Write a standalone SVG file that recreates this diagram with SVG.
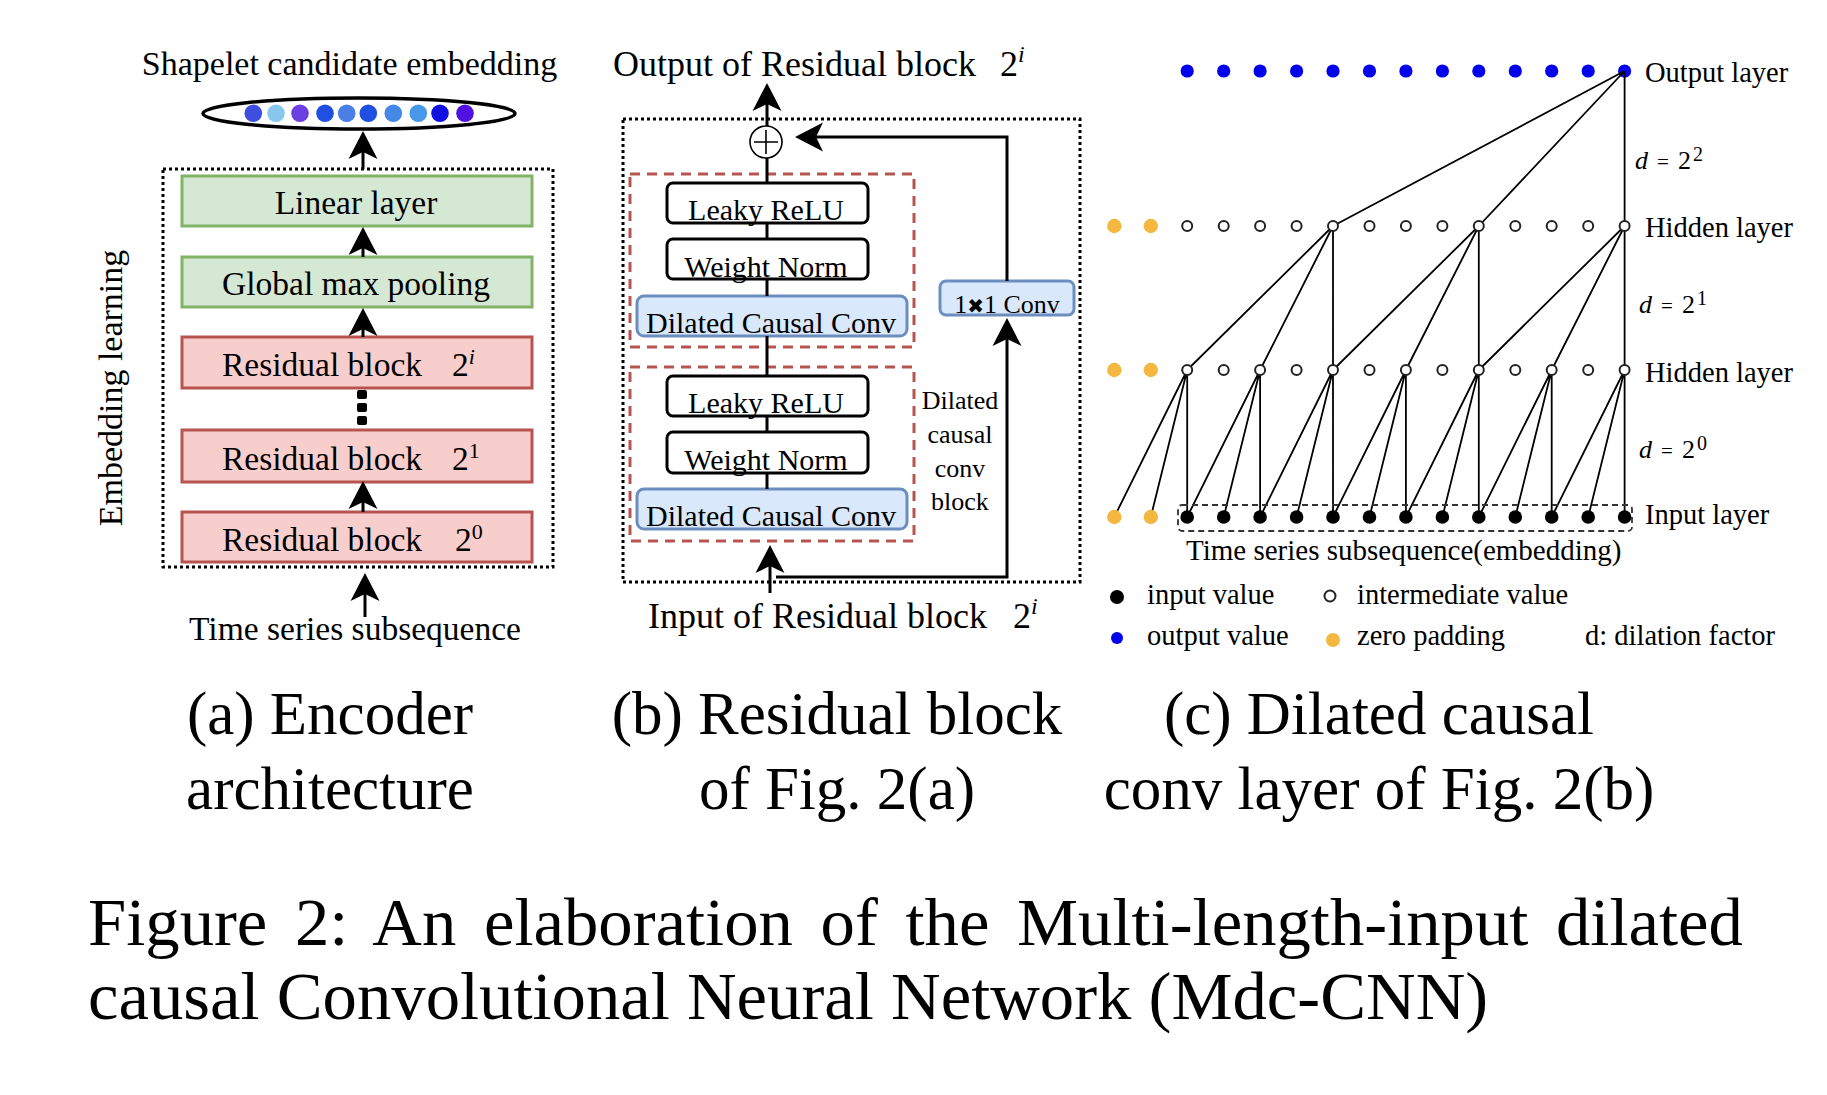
<svg xmlns="http://www.w3.org/2000/svg" width="1827" height="1095" viewBox="0 0 1827 1095">
<defs>
<style>
text{font-family:"Liberation Serif","Times New Roman","DejaVu Serif",serif;fill:#000}
.f34{font-size:34px}
.f33{font-size:33.5px}
.f36{font-size:36px}
.f30{font-size:30px}
.f26{font-size:26px}
.f28{font-size:28.5px}
.cap{font-size:61px}
.fig{font-size:68.7px}
.sup{font-size:22px}
.green{fill:#d5e8d4;stroke:#82b366;stroke-width:3}
.red{fill:#f8cecc;stroke:#b85450;stroke-width:3}
.blue{fill:#dae8fc;stroke:#6c8ebf;stroke-width:3}
.plain{fill:#fff;stroke:#000;stroke-width:3}
.dotbox{fill:none;stroke:#000;stroke-width:3;stroke-dasharray:3 3}
.redbox{fill:none;stroke:#b85450;stroke-width:3;stroke-dasharray:10 7}
.ln{fill:none;stroke:#000;stroke-width:3}
.thin{fill:none;stroke:#000;stroke-width:1.8}
.out{fill:#0000ee}
.pad{fill:#f4b740}
.mid{fill:#fff;stroke:#222;stroke-width:2}
.inp{fill:#000}
</style>
<path id="ah" d="M0,0 L-14.5,28 L0,21 L14.5,28 Z" fill="#000"/>
</defs>
<rect width="1827" height="1095" fill="#fff"/>

<!-- ===== Panel (a) ===== -->
<g id="a-title"><text class="f34" x="349.5" y="75" text-anchor="middle">Shapelet candidate embedding</text></g>
<g id="a-embedding">
<ellipse cx="359" cy="113.5" rx="156" ry="15.5" fill="#fff" stroke="#000" stroke-width="3.5"/>
<circle cx="253.3" cy="113.3" r="8.8" fill="#3d4ee0"/>
<circle cx="276" cy="113.3" r="8.8" fill="#88c8ec"/>
<circle cx="300" cy="113.3" r="8.8" fill="#6b3fe0"/>
<circle cx="325" cy="113.3" r="8.8" fill="#2050e0"/>
<circle cx="346.7" cy="113.3" r="8.8" fill="#4a7fe6"/>
<circle cx="368.3" cy="113.3" r="8.8" fill="#2050e0"/>
<circle cx="393.3" cy="113.3" r="8.8" fill="#4488e8"/>
<circle cx="418.3" cy="113.3" r="8.8" fill="#4898e8"/>
<circle cx="440" cy="113.3" r="8.8" fill="#1010e0"/>
<circle cx="465" cy="113.3" r="8.8" fill="#5010e0"/>
</g>
<g id="a-encoder-box"><rect class="dotbox" x="163" y="169" width="390" height="398"/></g>
<g id="a-embedding-label"><text class="f34" transform="translate(122,388) rotate(-90)" text-anchor="middle">Embedding learning</text></g>
<g id="a-linear"><rect class="green" x="182" y="176" width="350" height="50"/><text class="f33" x="356" y="214" text-anchor="middle">Linear layer</text></g>
<g id="a-gmp"><rect class="green" x="182" y="257" width="350" height="50"/><text class="f33" x="356" y="295" text-anchor="middle">Global max pooling</text></g>
<g id="a-res-i"><rect class="red" x="182" y="337" width="350" height="51"/><text class="f33" x="222" y="376">Residual block</text><text class="f33" x="452" y="376">2<tspan class="sup" dy="-12" font-style="italic">i</tspan></text></g>
<g id="a-ellipsis">
<rect x="357" y="390" width="10" height="9" rx="2" fill="#000"/>
<rect x="357" y="403" width="10" height="9" rx="2" fill="#000"/>
<rect x="357" y="416" width="10" height="9" rx="2" fill="#000"/>
</g>
<g id="a-res-1"><rect class="red" x="182" y="430" width="350" height="52"/><text class="f33" x="222" y="470">Residual block</text><text class="f33" x="452" y="470">2<tspan class="sup" dy="-12">1</tspan></text></g>
<g id="a-res-0"><rect class="red" x="182" y="512" width="350" height="50"/><text class="f33" x="222" y="550.5">Residual block</text><text class="f33" x="455" y="550.5">2<tspan class="sup" dy="-12">0</tspan></text></g>
<g id="a-input"><text class="f33" x="355" y="640" text-anchor="middle">Time series subsequence</text></g>

<!-- ===== Panel (b) ===== -->
<g id="b-output-label"><text class="f36" x="613" y="76">Output of Residual block</text><text class="f36" x="1000" y="76">2<tspan font-size="24" dy="-14" font-style="italic">i</tspan></text></g>
<g id="b-block-box"><rect class="dotbox" x="623" y="119" width="457" height="463"/></g>
<g id="b-sum"><circle cx="766" cy="142" r="16" fill="#fff" stroke="#000" stroke-width="1.6"/><path d="M754,142 H778 M766,130 V154" stroke="#000" stroke-width="1.6"/></g>
<g id="b-dcc-upper"><rect class="redbox" x="630" y="174" width="284" height="173"/></g>
<g id="b-dcc-lower"><rect class="redbox" x="630" y="367" width="284" height="174"/></g>
<g id="b-leaky-1"><rect class="plain" x="667" y="183" width="201" height="40" rx="6"/><text class="f30" x="766" y="220" text-anchor="middle">Leaky ReLU</text></g>
<g id="b-wn-1"><rect class="plain" x="667" y="239" width="201" height="40" rx="6"/><text class="f30" x="766" y="277" text-anchor="middle">Weight Norm</text></g>
<g id="b-conv-1"><rect class="blue" x="637" y="296" width="270" height="40" rx="7"/><text class="f30" x="771" y="333" text-anchor="middle">Dilated Causal Conv</text></g>
<g id="b-leaky-2"><rect class="plain" x="667" y="376" width="201" height="40" rx="6"/><text class="f30" x="766" y="413" text-anchor="middle">Leaky ReLU</text></g>
<g id="b-wn-2"><rect class="plain" x="667" y="432" width="201" height="41" rx="6"/><text class="f30" x="766" y="470" text-anchor="middle">Weight Norm</text></g>
<g id="b-conv-2"><rect class="blue" x="637" y="489" width="270" height="40" rx="7"/><text class="f30" x="771" y="526" text-anchor="middle">Dilated Causal Conv</text></g>
<g id="b-1x1"><rect class="blue" x="940" y="281" width="134" height="34" rx="6"/><text class="f26" x="1007" y="313" text-anchor="middle">1<tspan font-family="DejaVu Sans" font-size="20">✖</tspan>1 Conv</text></g>
<g id="b-dcc-label" class="f26">
<text x="960" y="409" text-anchor="middle">Dilated</text>
<text x="960" y="442.5" text-anchor="middle">causal</text>
<text x="960" y="476.5" text-anchor="middle">conv</text>
<text x="960" y="509.5" text-anchor="middle">block</text>
</g>
<g id="b-input-label"><text class="f36" x="648" y="628">Input of Residual block</text><text class="f36" x="1013" y="628">2<tspan font-size="24" dy="-14" font-style="italic">i</tspan></text></g>

<!-- ===== Panel (c) nodes ===== -->
<g id="c-output-layer">
<circle id="o0" class="out" cx="1187.2" cy="71" r="6.6"/>
<circle id="o1" class="out" cx="1223.7" cy="71" r="6.6"/>
<circle id="o2" class="out" cx="1260.1" cy="71" r="6.6"/>
<circle id="o3" class="out" cx="1296.6" cy="71" r="6.6"/>
<circle id="o4" class="out" cx="1333" cy="71" r="6.6"/>
<circle id="o5" class="out" cx="1369.5" cy="71" r="6.6"/>
<circle id="o6" class="out" cx="1405.9" cy="71" r="6.6"/>
<circle id="o7" class="out" cx="1442.4" cy="71" r="6.6"/>
<circle id="o8" class="out" cx="1478.8" cy="71" r="6.6"/>
<circle id="o9" class="out" cx="1515.3" cy="71" r="6.6"/>
<circle id="o10" class="out" cx="1551.7" cy="71" r="6.6"/>
<circle id="o11" class="out" cx="1588.2" cy="71" r="6.6"/>
<circle id="o12" class="out" cx="1624.6" cy="71" r="6.6"/>
</g>

<!-- ===== Connectors ===== -->
<g id="connectors">
<!-- panel a -->
<line class="ln" x1="363" y1="169" x2="363" y2="152"/><use href="#ah" x="363" y="131"/>
<line class="ln" x1="363" y1="257" x2="363" y2="247"/><use href="#ah" x="363" y="227"/>
<line class="ln" x1="363" y1="337" x2="363" y2="328"/><use href="#ah" x="363" y="308"/>
<line class="ln" x1="363" y1="512" x2="363" y2="501"/><use href="#ah" x="363" y="481"/>
<line class="ln" x1="365" y1="617" x2="365" y2="593"/><use href="#ah" x="365" y="573"/>
<!-- panel b -->
<line class="ln" x1="767" y1="126" x2="767" y2="103"/><use href="#ah" x="767" y="83"/>
<line class="ln" x1="767" y1="158" x2="767" y2="183"/>
<line class="ln" x1="767" y1="223" x2="767" y2="239"/>
<line class="ln" x1="767" y1="279" x2="767" y2="296"/>
<line class="ln" x1="767" y1="336" x2="767" y2="376"/>
<line class="ln" x1="767" y1="416" x2="767" y2="432"/>
<line class="ln" x1="767" y1="473" x2="767" y2="489"/>
<line class="ln" x1="770" y1="593" x2="770" y2="565"/><use href="#ah" x="770" y="545"/>
<polyline class="ln" points="776,577 1007,577 1007,338"/><use href="#ah" x="1007" y="318"/>
<polyline class="ln" points="1007,281 1007,137 815,137"/><use href="#ah" transform="translate(795,137) rotate(-90)"/>
<!-- panel c -->
<path class="thin" d="M1624.6,71 L1333,226 M1624.6,71 L1478.8,226 M1624.6,71 L1624.6,226"/>
<path class="thin" d="M1333,226 L1187.2,370 M1333,226 L1260.1,370 M1333,226 L1333,370
M1478.8,226 L1333,370 M1478.8,226 L1405.9,370 M1478.8,226 L1478.8,370
M1624.6,226 L1478.8,370 M1624.6,226 L1551.7,370 M1624.6,226 L1624.6,370"/>
<path class="thin" d="M1187.2,370 L1187.2,517 M1187.2,370 L1150.8,517 M1187.2,370 L1114.3,517
M1260.1,370 L1260.1,517 M1260.1,370 L1223.7,517 M1260.1,370 L1187.2,517
M1333,370 L1333,517 M1333,370 L1296.6,517 M1333,370 L1260.1,517
M1405.9,370 L1405.9,517 M1405.9,370 L1369.5,517 M1405.9,370 L1333,517
M1478.8,370 L1478.8,517 M1478.8,370 L1442.4,517 M1478.8,370 L1405.9,517
M1551.7,370 L1551.7,517 M1551.7,370 L1515.3,517 M1551.7,370 L1478.8,517
M1624.6,370 L1624.6,517 M1624.6,370 L1588.2,517 M1624.6,370 L1551.7,517"/>
</g>

<g id="c-hidden-layer-1">
<circle id="h1p0" class="pad" cx="1114.3" cy="226" r="7.2"/>
<circle id="h1p1" class="pad" cx="1150.8" cy="226" r="7.2"/>
<circle id="h1n0" class="mid" cx="1187.2" cy="226" r="5"/>
<circle id="h1n1" class="mid" cx="1223.7" cy="226" r="5"/>
<circle id="h1n2" class="mid" cx="1260.1" cy="226" r="5"/>
<circle id="h1n3" class="mid" cx="1296.6" cy="226" r="5"/>
<circle id="h1n4" class="mid" cx="1333" cy="226" r="5"/>
<circle id="h1n5" class="mid" cx="1369.5" cy="226" r="5"/>
<circle id="h1n6" class="mid" cx="1405.9" cy="226" r="5"/>
<circle id="h1n7" class="mid" cx="1442.4" cy="226" r="5"/>
<circle id="h1n8" class="mid" cx="1478.8" cy="226" r="5"/>
<circle id="h1n9" class="mid" cx="1515.3" cy="226" r="5"/>
<circle id="h1n10" class="mid" cx="1551.7" cy="226" r="5"/>
<circle id="h1n11" class="mid" cx="1588.2" cy="226" r="5"/>
<circle id="h1n12" class="mid" cx="1624.6" cy="226" r="5"/>
</g>
<g id="c-hidden-layer-2">
<circle id="h2p0" class="pad" cx="1114.3" cy="370" r="7.2"/>
<circle id="h2p1" class="pad" cx="1150.8" cy="370" r="7.2"/>
<circle id="h2n0" class="mid" cx="1187.2" cy="370" r="5"/>
<circle id="h2n1" class="mid" cx="1223.7" cy="370" r="5"/>
<circle id="h2n2" class="mid" cx="1260.1" cy="370" r="5"/>
<circle id="h2n3" class="mid" cx="1296.6" cy="370" r="5"/>
<circle id="h2n4" class="mid" cx="1333" cy="370" r="5"/>
<circle id="h2n5" class="mid" cx="1369.5" cy="370" r="5"/>
<circle id="h2n6" class="mid" cx="1405.9" cy="370" r="5"/>
<circle id="h2n7" class="mid" cx="1442.4" cy="370" r="5"/>
<circle id="h2n8" class="mid" cx="1478.8" cy="370" r="5"/>
<circle id="h2n9" class="mid" cx="1515.3" cy="370" r="5"/>
<circle id="h2n10" class="mid" cx="1551.7" cy="370" r="5"/>
<circle id="h2n11" class="mid" cx="1588.2" cy="370" r="5"/>
<circle id="h2n12" class="mid" cx="1624.6" cy="370" r="5"/>
</g>
<g id="c-input-layer">
<rect x="1178" y="505" width="454" height="26" rx="4" fill="none" stroke="#333" stroke-width="1.8" stroke-dasharray="6 4"/>
<circle id="ip0" class="pad" cx="1114.3" cy="517" r="7.2"/>
<circle id="ip1" class="pad" cx="1150.8" cy="517" r="7.2"/>
<circle id="in0" class="inp" cx="1187.2" cy="517" r="6.8"/>
<circle id="in1" class="inp" cx="1223.7" cy="517" r="6.8"/>
<circle id="in2" class="inp" cx="1260.1" cy="517" r="6.8"/>
<circle id="in3" class="inp" cx="1296.6" cy="517" r="6.8"/>
<circle id="in4" class="inp" cx="1333" cy="517" r="6.8"/>
<circle id="in5" class="inp" cx="1369.5" cy="517" r="6.8"/>
<circle id="in6" class="inp" cx="1405.9" cy="517" r="6.8"/>
<circle id="in7" class="inp" cx="1442.4" cy="517" r="6.8"/>
<circle id="in8" class="inp" cx="1478.8" cy="517" r="6.8"/>
<circle id="in9" class="inp" cx="1515.3" cy="517" r="6.8"/>
<circle id="in10" class="inp" cx="1551.7" cy="517" r="6.8"/>
<circle id="in11" class="inp" cx="1588.2" cy="517" r="6.8"/>
<circle id="in12" class="inp" cx="1624.6" cy="517" r="6.8"/>
</g>

<g id="c-labels" class="f28">
<text x="1645" y="82">Output layer</text>
<text x="1645" y="237">Hidden layer</text>
<text x="1645" y="382">Hidden layer</text>
<text x="1645" y="524">Input layer</text>
<text font-size="26"><tspan x="1635" y="169" font-style="italic">d</tspan><tspan x="1657" font-size="21">=</tspan><tspan x="1678">2</tspan><tspan x="1693" dy="-8" font-size="20">2</tspan></text>
<text font-size="26"><tspan x="1639" y="313" font-style="italic">d</tspan><tspan x="1661" font-size="21">=</tspan><tspan x="1682">2</tspan><tspan x="1697" dy="-8" font-size="20">1</tspan></text>
<text font-size="26"><tspan x="1639" y="458" font-style="italic">d</tspan><tspan x="1661" font-size="21">=</tspan><tspan x="1682">2</tspan><tspan x="1697" dy="-8" font-size="20">0</tspan></text>
<text x="1186" y="560" font-size="29">Time series subsequence(embedding)</text>
</g>
<g id="c-legend" class="f28">
<circle class="inp" cx="1117" cy="597" r="7"/><text x="1147" y="604">input value</text>
<circle class="mid" cx="1330" cy="596" r="5.5"/><text x="1357" y="604">intermediate value</text>
<circle class="out" cx="1117" cy="638" r="6"/><text x="1147" y="645">output value</text>
<circle class="pad" cx="1333" cy="640" r="7"/><text x="1357" y="645">zero padding</text>
<text x="1585" y="645">d: dilation factor</text>
</g>

<!-- ===== Captions ===== -->
<g id="captions" class="cap">
<text x="330" y="734" text-anchor="middle">(a) Encoder</text>
<text x="330" y="809" text-anchor="middle">architecture</text>
<text x="837" y="734" text-anchor="middle">(b) Residual block</text>
<text x="837" y="809" text-anchor="middle">of Fig. 2(a)</text>
<text x="1379" y="734" text-anchor="middle">(c) Dilated causal</text>
<text x="1379" y="809" text-anchor="middle">conv layer of Fig. 2(b)</text>
</g>
<g id="figure-caption" class="fig">
<text x="88" y="945" word-spacing="10.5">Figure 2: An elaboration of the Multi-length-input dilated</text>
<text x="88" y="1019">causal Convolutional Neural Network (Mdc-CNN)</text>
</g>
</svg>
